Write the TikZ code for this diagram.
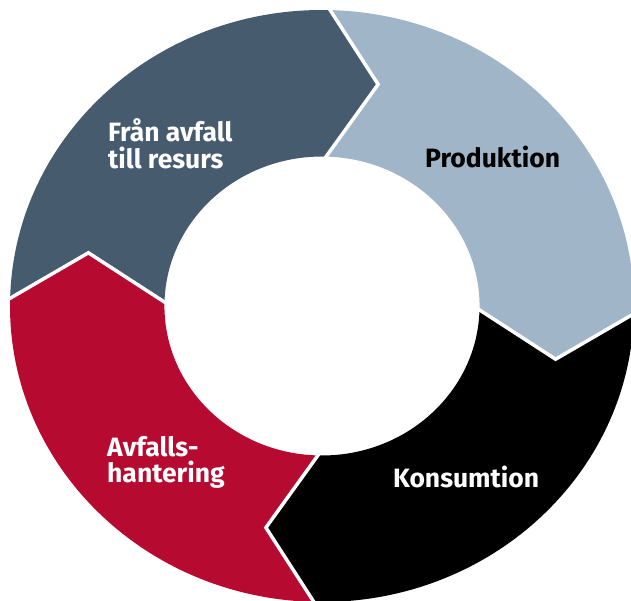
\documentclass[tikz,border=0pt]{standalone}
\usepackage{fontspec}
\setmainfont{Fira Sans}
\usetikzlibrary{calc}
\definecolor{slate}{HTML}{465B6E}
\definecolor{sky}{HTML}{A0B6C8}
\definecolor{crimson}{HTML}{B70A30}
\newcommand{\ringpart}[2]{%
  \fill[#2] (#1:1) arc[start angle=#1, end angle=#1-90, x radius=312pt, y radius=296pt]
    -- ({#1-102}:0.77) -- ({#1-90}:0.505)
    arc[start angle=#1-90, end angle=#1, x radius=157.56pt, y radius=149.48pt]
    -- ({#1-12}:0.77) -- cycle;}
\newcommand{\gapline}[1]{%
  \draw[gapstyle] ($({#1-12}:0.77)!1.2!({#1}:1)$) -- ({#1-12}:0.77) -- ($({#1-12}:0.77)!1.2!({#1}:0.505)$);}
\tikzset{
  gapstyle/.style={white, line width=3.5pt, line join=miter},
  lbl/.style={font=\fontsize{26.5}{27}\selectfont\bfseries, inner sep=0pt, anchor=base west, align=left},
}
\begin{document}
\begin{tikzpicture}[x=1pt,y=-1pt]
\useasboundingbox[fill=white] (0,0) rectangle (631,601);
\begin{scope}[shift={(322pt,-306pt)}, x=312pt, y=296pt]
  \ringpart{178.5}{slate}
  \ringpart{88.5}{sky}
  \ringpart{-1.5}{black}
  \ringpart{-91.5}{crimson}
  \gapline{88.5}
  \gapline{-1.5}
  \gapline{-91.5}
  \gapline{178.5}
\end{scope}
\node[lbl, text=white] (resurs) at (108,169) {Från avfall\\till resurs};
\node[lbl, text=black] (prod) at (425,168) {Produktion};
\node[lbl, text=white, font=\fontsize{26.5}{25.5}\selectfont\bfseries] (avfall) at (107,482) {Avfalls-\\hantering};
\node[lbl, text=white] (kons) at (393,487) {Konsumtion};
\end{tikzpicture}
\end{document}
